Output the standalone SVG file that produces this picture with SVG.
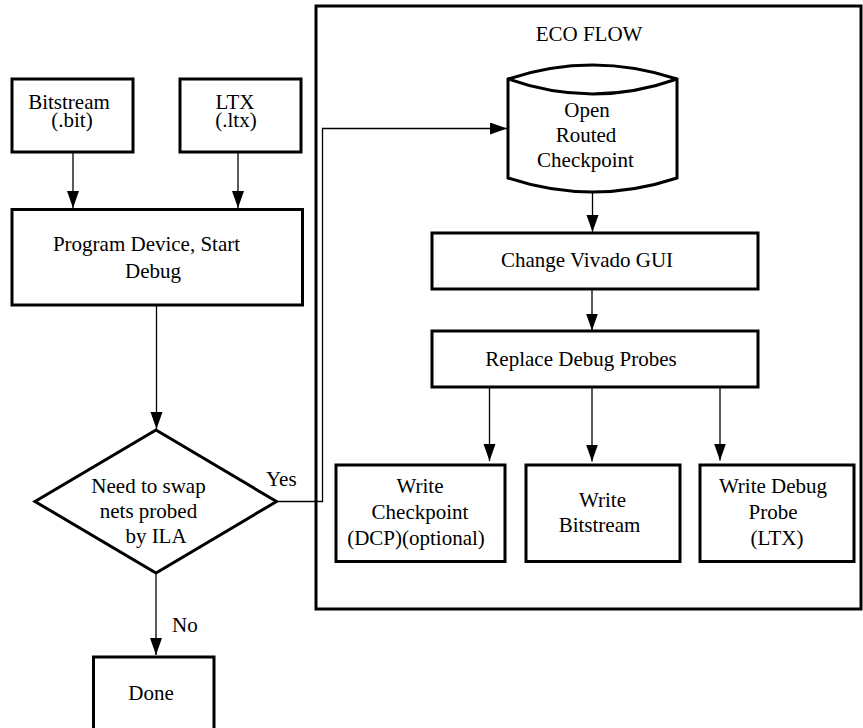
<svg xmlns="http://www.w3.org/2000/svg" width="863" height="728" viewBox="0 0 863 728">
<style>
  .shape { fill: #fff; stroke: #000; stroke-width: 3; }
  .frame { fill: none; stroke: #000; stroke-width: 3; }
  .conn { fill: none; stroke: #000; stroke-width: 1.3; }
  text { font-family: "Liberation Serif", "Times New Roman", serif; font-size: 21px; fill: #000; text-anchor: middle; }
  .lbl { text-anchor: start; }
</style>
<defs>
  <marker id="arrow" markerUnits="userSpaceOnUse" markerWidth="18" markerHeight="13" refX="17" refY="6" orient="auto">
    <path d="M0,0 L17,6 L0,12 Z" fill="#000"/>
  </marker>
</defs>
<rect width="863" height="728" fill="#fff"/>

<g id="eco-flow">
  <rect class="frame" x="316" y="6" width="545" height="603"/>
  <text x="589" y="41">ECO FLOW</text>
</g>

<g id="connectors">
  <path class="conn" d="M73,152 V208" marker-end="url(#arrow)"/>
  <path class="conn" d="M238,152 V208" marker-end="url(#arrow)"/>
  <path class="conn" d="M156.5,305 V429" marker-end="url(#arrow)"/>
  <path class="conn" d="M156,573 V655" marker-end="url(#arrow)"/>
  <path class="conn" d="M276.5,501.5 H322.5 V128.5 H507" marker-end="url(#arrow)"/>
  <path class="conn" d="M592.5,192 V232" marker-end="url(#arrow)"/>
  <path class="conn" d="M592,289 V330.5" marker-end="url(#arrow)"/>
  <path class="conn" d="M489.5,387 V461" marker-end="url(#arrow)"/>
  <path class="conn" d="M592,387 V461.5" marker-end="url(#arrow)"/>
  <path class="conn" d="M720,387 V460.5" marker-end="url(#arrow)"/>
  <text class="lbl" x="266" y="486">Yes</text>
  <text class="lbl" x="172" y="632">No</text>
</g>

<g id="bitstream">
  <rect class="shape" x="12" y="79" width="121" height="73"/>
  <text x="69" y="109">Bitstream</text>
  <text x="72" y="127">(.bit)</text>
</g>

<g id="ltx">
  <rect class="shape" x="180" y="79" width="121" height="73"/>
  <text x="235" y="109">LTX</text>
  <text x="236" y="127">(.ltx)</text>
</g>

<g id="program-device">
  <rect class="shape" x="12" y="209.5" width="290.5" height="95.5"/>
  <text x="146.5" y="250.5">Program Device, Start</text>
  <text x="153" y="277.5">Debug</text>
</g>

<g id="decision">
  <polygon class="shape" points="156,430 276.5,501.5 156,573 35,501.5"/>
  <text x="148.5" y="493">Need to swap</text>
  <text x="148.5" y="518">nets probed</text>
  <text x="156" y="543">by ILA</text>
</g>

<g id="done">
  <rect class="shape" x="93.5" y="657" width="120.5" height="90"/>
  <text x="151" y="700">Done</text>
</g>

<g id="open-routed-checkpoint">
  <path class="shape" d="M508,79 Q592.5,51 677,79 L677,178 Q592.5,206 508,178 Z"/>
  <path class="frame" d="M508,79 Q592.5,109 677,79"/>
  <text x="587" y="117">Open</text>
  <text x="586" y="142">Routed</text>
  <text x="585.5" y="167">Checkpoint</text>
</g>

<g id="change-vivado-gui">
  <rect class="shape" x="432" y="233" width="326" height="56"/>
  <text x="587" y="266.5">Change Vivado GUI</text>
</g>

<g id="replace-debug-probes">
  <rect class="shape" x="432" y="331" width="326" height="56"/>
  <text x="581" y="365.5">Replace Debug Probes</text>
</g>

<g id="write-checkpoint">
  <rect class="shape" x="336" y="465" width="169" height="96.5"/>
  <text x="420" y="493">Write</text>
  <text x="420" y="519">Checkpoint</text>
  <text x="416" y="545">(DCP)(optional)</text>
</g>

<g id="write-bitstream">
  <rect class="shape" x="526" y="465" width="154" height="96.5"/>
  <text x="602.5" y="506.5">Write</text>
  <text x="599.5" y="531.5">Bitstream</text>
</g>

<g id="write-debug-probe">
  <rect class="shape" x="700" y="465" width="154" height="96.5"/>
  <text x="773" y="493">Write Debug</text>
  <text x="773" y="519">Probe</text>
  <text x="777" y="545">(LTX)</text>
</g>
</svg>
